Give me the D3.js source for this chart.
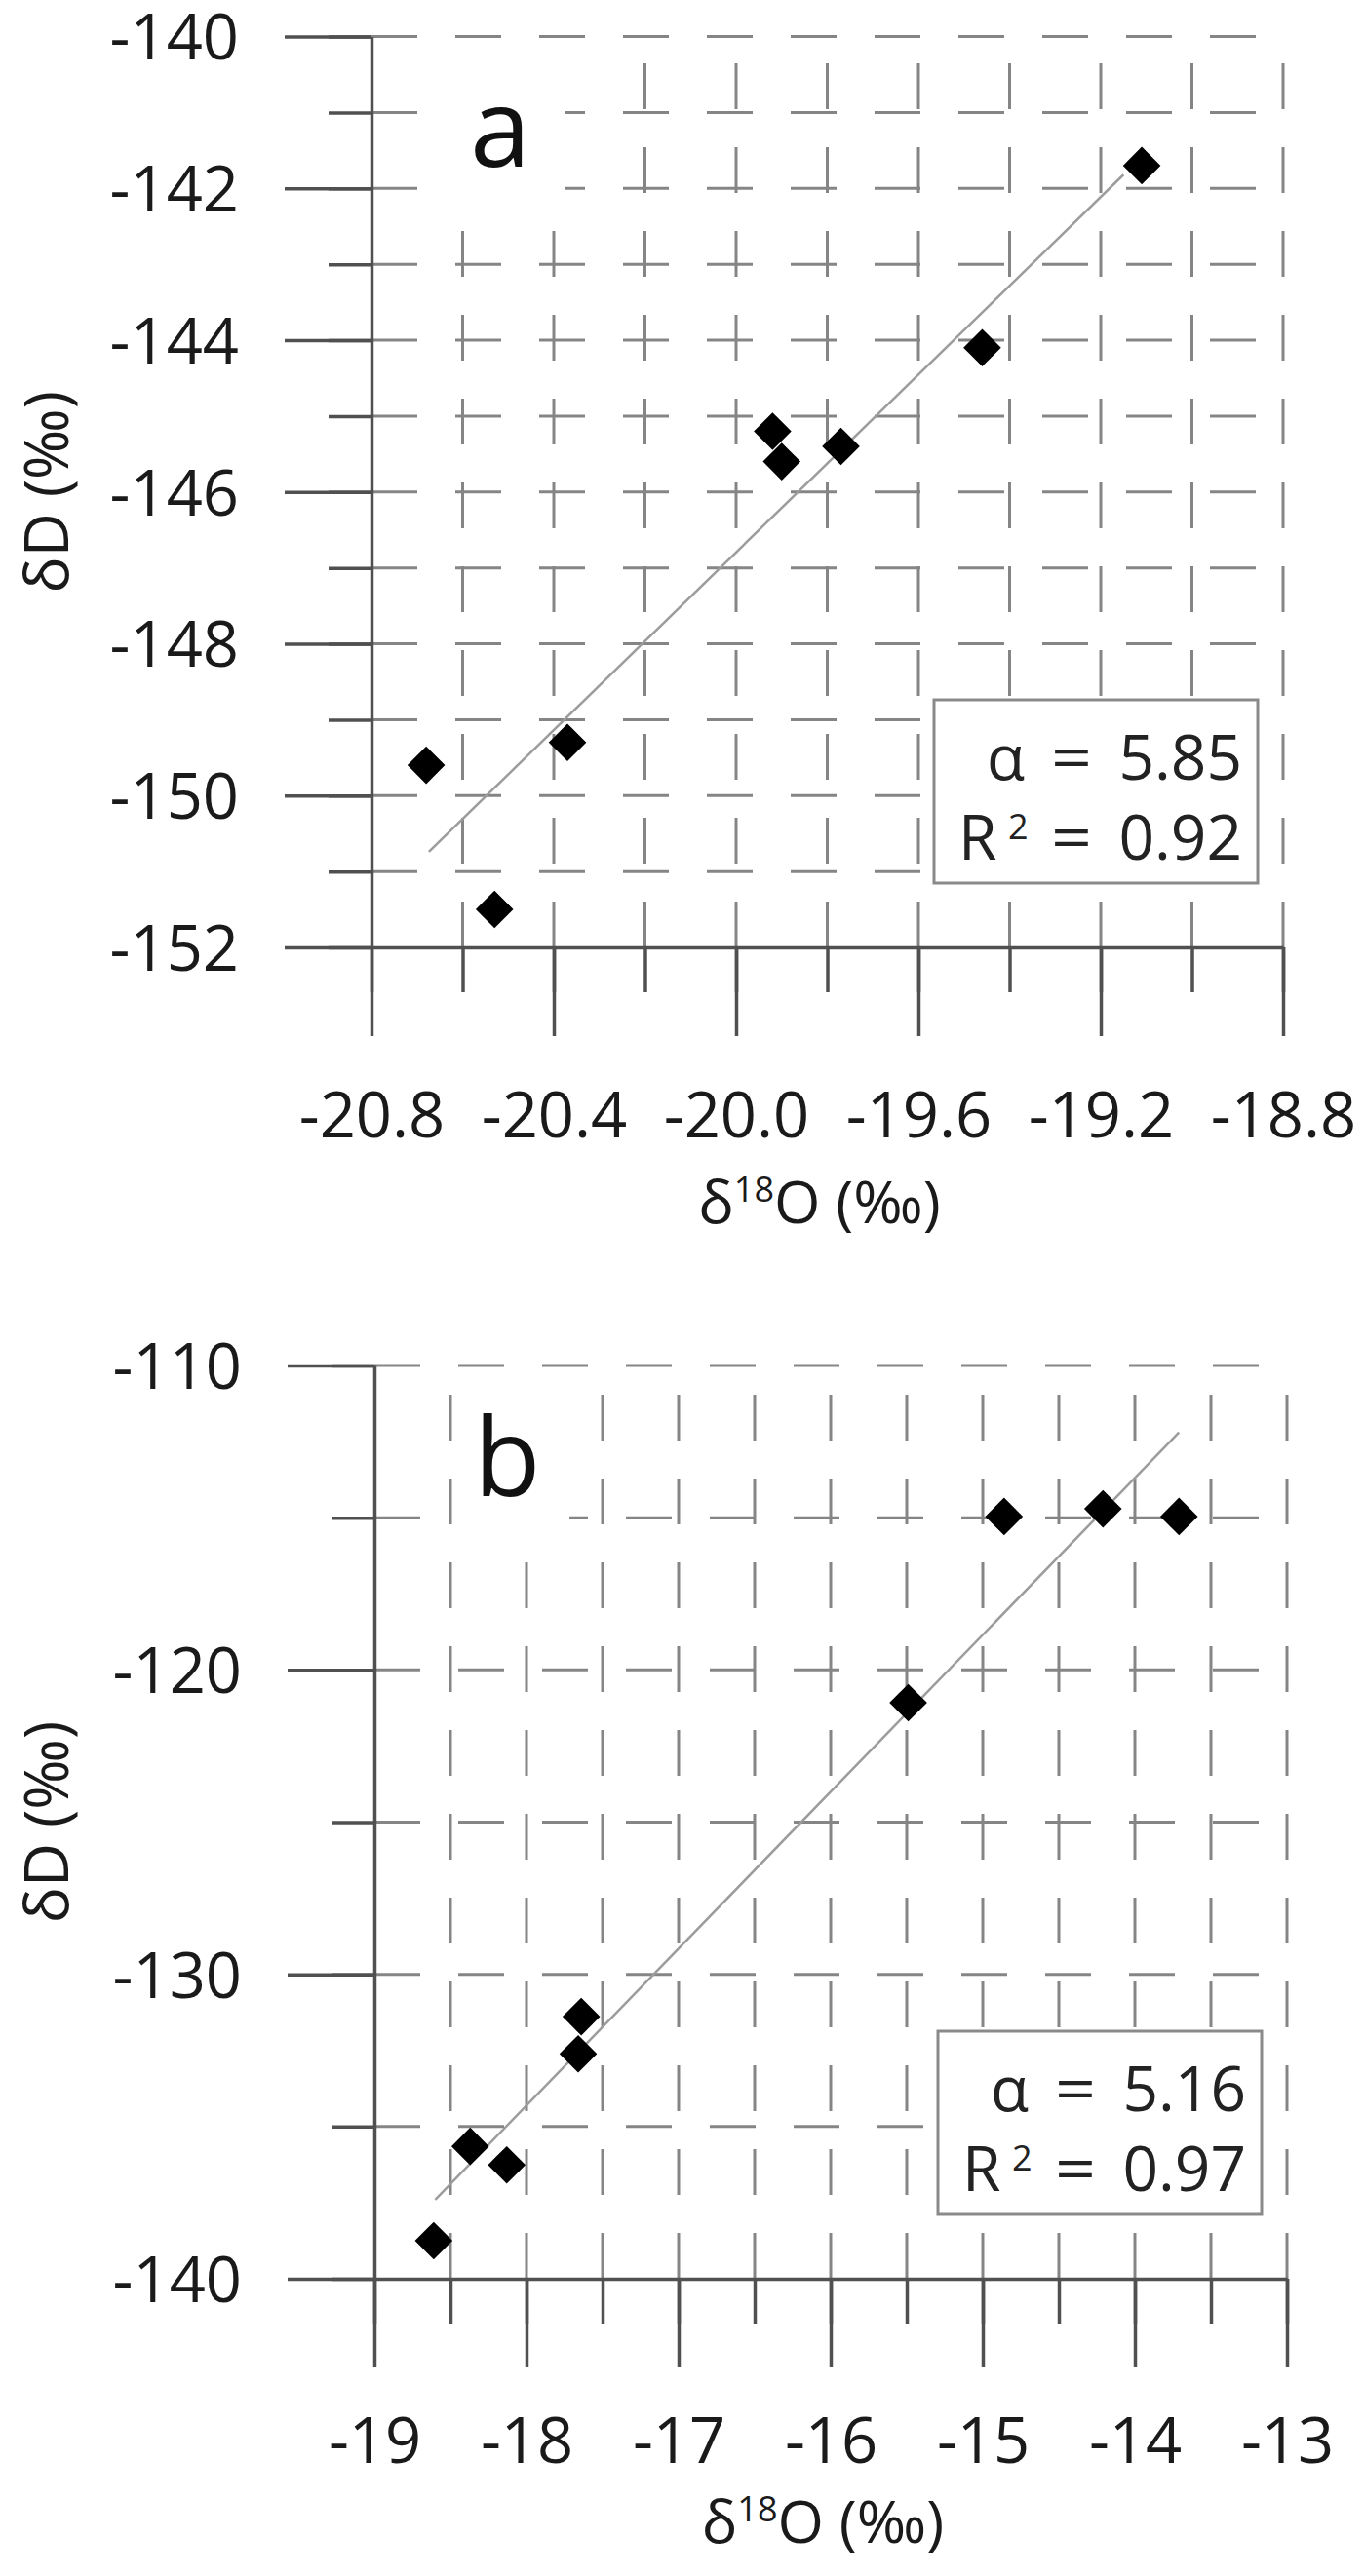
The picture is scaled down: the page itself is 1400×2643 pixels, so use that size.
<!DOCTYPE html>
<html>
<head>
<meta charset="utf-8">
<script src="https://cdn.jsdelivr.net/npm/d3@7"></script>
<style>
  body { margin: 0; background: #fff; }
  svg { display: block; font-family: "Open Sans", sans-serif; }
</style>
</head>
<body>
<svg width="1400" height="2643"></svg>
<script>
// ---- panel a data ----
const aO18 = [-20.68, -20.53, -20.37, -19.92, -19.9, -19.77, -19.46, -19.11];
const aDD = [-149.6, -151.5, -149.3, -145.2, -145.6, -145.4, -144.1, -141.7];
const aFitX = [-20.674, -19.15];
const aFitY = [-150.74, -141.82];
const aXTicks = [-20.8, -20.4, -20.0, -19.6, -19.2, -18.8];
const aXGrid = [-20.8, -20.6, -20.4, -20.2, -20.0, -19.8, -19.6, -19.4, -19.2, -19.0, -18.8];
const aYTicks = [-152, -150, -148, -146, -144, -142, -140];
const aYGrid = [-152, -151, -150, -149, -148, -147, -146, -145, -144, -143, -142, -141, -140];
const aStats = ["5.85", "0.92"];

// ---- panel b data ----
const bO18 = [-18.61, -18.37, -18.13, -17.66, -17.64, -15.49, -14.86, -14.21, -13.71];
const bDD = [-138.75, -135.65, -136.26, -132.61, -131.39, -121.08, -114.96, -114.71, -114.96];
const bFitX = [-18.6, -13.71];
const bFitY = [-137.4, -112.2];
const bXTicks = [-19, -18, -17, -16, -15, -14, -13];
const bXGrid = [-19, -18.5, -18, -17.5, -17, -16.5, -16, -15.5, -15, -14.5, -14, -13.5, -13];
const bYTicks = [-140, -130, -120, -110];
const bYGrid = [-140, -135, -130, -125, -120, -115, -110];
const bStats = ["5.16", "0.97"];

const svg = d3.select("svg");
const axisColor = "#505050";
const gridColor = "#858585";

// plain hyphen instead of the unicode minus d3 uses
const hyphen = (fmt) => (d) => fmt(d).replace("\u2212", "-");

const drawPanel = (p) => {
  const x = d3.scaleLinear().domain(p.xDomain).range(p.xRange);
  const y = d3.scaleLinear().domain(p.yDomain).range(p.yRange);
  const x0 = p.xRange[0], x1 = p.xRange[1];
  const y0 = p.yRange[0], y1 = p.yRange[1];
  const g = svg.append("g");

  // dashed grid, dashes start at the axes
  g.append("g")
    .selectAll("line")
    .data(p.yGrid.slice(1))
    .join("line")
    .attr("x1", x0).attr("x2", x1)
    .attr("y1", (d) => y(d)).attr("y2", (d) => y(d))
    .attr("stroke", gridColor).attr("stroke-width", 3)
    .attr("stroke-dasharray", "47 39");
  g.append("g")
    .selectAll("line")
    .data(p.xGrid.slice(1))
    .join("line")
    .attr("x1", (d) => x(d)).attr("x2", (d) => x(d))
    .attr("y1", y0).attr("y2", y1)
    .attr("stroke", gridColor).attr("stroke-width", 3)
    .attr("stroke-dasharray", "47 39");

  // panel letter on a white patch
  g.append("rect")
    .attr("x", p.letterX - 22).attr("y", p.letterY - 126)
    .attr("width", 120).attr("height", 176)
    .attr("fill", "#fff");
  g.append("text")
    .attr("x", p.letterX).attr("y", p.letterY)
    .style("font-size", "112px")
    .attr("fill", "#111")
    .text(p.letter);

  // stats box
  const bx = x1 - 26, by = y0 - 66 - 188;
  g.append("rect")
    .attr("x", bx - 332).attr("y", by)
    .attr("width", 332).attr("height", 188)
    .attr("fill", "#fff").attr("stroke", "#8a8a8a").attr("stroke-width", 3);
  const st = g.append("g").style("font-size", "64px").attr("fill", "#222");
  const lines = [["α", p.stats[0], 82], ["R", p.stats[1], 164]];
  lines.forEach(([lab, val, dy]) => {
    st.append("text").attr("x", lab === "α" ? bx - 278 : bx - 307).attr("y", by + dy).text(lab);
    st.append("text").attr("x", bx - 212).attr("y", by + dy)
      .attr("textLength", 42).attr("lengthAdjust", "spacingAndGlyphs").text("=");
    st.append("text").attr("x", bx - 16).attr("y", by + dy)
      .attr("text-anchor", "end").text(val);
  });
  st.append("text").attr("x", bx - 256).attr("y", by + 143)
    .style("font-size", "36px").text("2");

  // y axis: minor crosses + major ticks with labels
  const yMinor = g.append("g")
    .attr("transform", `translate(${x0},0)`)
    .call(d3.axisLeft(y).tickValues(p.yGrid).tickSize(44).tickSizeOuter(0).tickFormat(""));
  const yMajor = g.append("g")
    .attr("transform", `translate(${x0},0)`)
    .call(d3.axisLeft(y).tickValues(p.yTicks).tickSize(89).tickPadding(47).tickFormat(hyphen(d3.format("d"))));
  yMajor.select(".domain").remove();

  // x axis
  const xMinor = g.append("g")
    .attr("transform", `translate(0,${y0})`)
    .call(d3.axisBottom(x).tickValues(p.xGrid).tickSize(46).tickSizeOuter(0).tickFormat(""));
  const xMajor = g.append("g")
    .attr("transform", `translate(0,${y0})`)
    .call(d3.axisBottom(x).tickValues(p.xTicks).tickSize(91).tickFormat(hyphen(p.xFormat)));
  xMajor.select(".domain").remove();
  xMajor.selectAll("text").attr("dy", null).attr("y", p.tickDy);

  [yMinor, yMajor, xMinor, xMajor].forEach((a) => {
    a.attr("font-family", null).attr("font-size", null);
    a.selectAll("line, path").attr("stroke", axisColor).attr("stroke-width", 3.5);
    a.selectAll("text").style("font-size", "65px").attr("fill", "#1a1a1a");
  });
  yMajor.selectAll("text").attr("dy", "0.36em");

  // axis titles
  g.append("text")
    .attr("transform", `translate(70,${(y0 + y1) / 2}) rotate(-90)`)
    .attr("text-anchor", "middle")
    .style("font-size", "62px").attr("fill", "#1a1a1a")
    .text("δD (‰)");
  const xt = g.append("text")
    .attr("x", (x0 + x1) / 2 - 8).attr("y", y0 + p.xTitleDy)
    .attr("text-anchor", "middle")
    .style("font-size", "61px").attr("fill", "#1a1a1a");
  xt.append("tspan").text("δ");
  xt.append("tspan").attr("dy", -22).style("font-size", "36px").text("18");
  xt.append("tspan").attr("dy", 22).text("O (‰)");

  // fitted line
  g.append("line")
    .attr("x1", x(p.fitX[0])).attr("y1", y(p.fitY[0]))
    .attr("x2", x(p.fitX[1])).attr("y2", y(p.fitY[1]))
    .attr("stroke", "#9c9c9c").attr("stroke-width", 2.5);

  // samples
  g.append("g")
    .selectAll("path")
    .data(p.xs.map((v, i) => [v, p.ys[i]]))
    .join("path")
    .attr("transform", (d) => `translate(${x(d[0])},${y(d[1])})`)
    .attr("d", d3.symbol(d3.symbolDiamond2, 950))
    .attr("fill", "#000");
};

drawPanel({
  xDomain: [-20.8, -18.8], xRange: [381, 1316],
  yDomain: [-152, -140], yRange: [972, 37.5],
  xs: aO18, ys: aDD, fitX: aFitX, fitY: aFitY,
  xTicks: aXTicks, xGrid: aXGrid, yTicks: aYTicks, yGrid: aYGrid,
  xFormat: d3.format(".1f"), stats: aStats,
  letter: "a", letterX: 482, letterY: 171, tickDy: 195, xTitleDy: 283,
});

drawPanel({
  xDomain: [-19, -13], xRange: [384, 1320],
  yDomain: [-140, -110], yRange: [2338, 1401],
  xs: bO18, ys: bDD, fitX: bFitX, fitY: bFitY,
  xTicks: bXTicks, xGrid: bXGrid, yTicks: bYTicks, yGrid: bYGrid,
  xFormat: d3.format("d"), stats: bStats,
  letter: "b", letterX: 486, letterY: 1535, tickDy: 189, xTitleDy: 271,
});
</script>
</body>
</html>
